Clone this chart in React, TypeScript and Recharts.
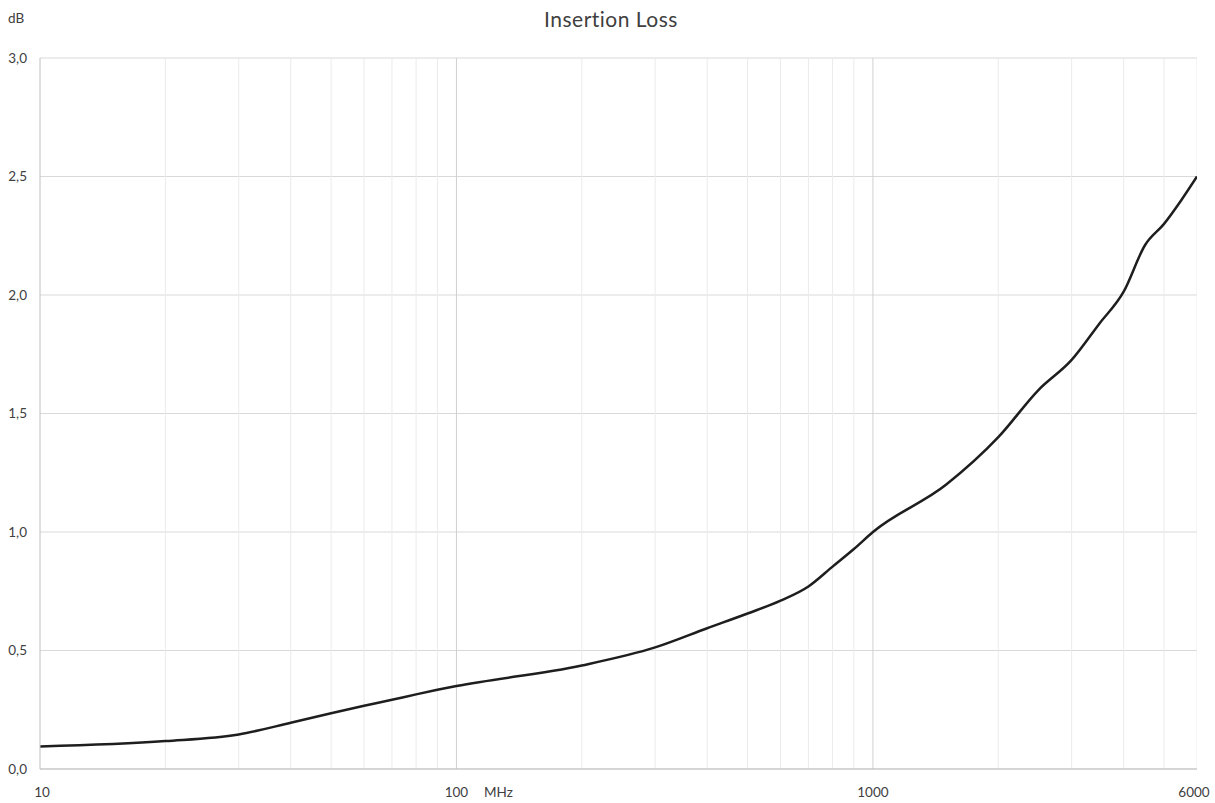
import React from "react"
import { LineChart, Line, XAxis, YAxis, CartesianGrid, ReferenceLine } from "recharts"

// insertion loss vs frequency (MHz)
const freqs = [10, 20, 30, 40, 50, 60, 70, 80, 90, 100, 200, 300, 400, 500, 600, 700, 800, 900, 1000, 1500, 2000, 2500, 3000, 3500, 4000, 4500, 5000, 5500, 6000]
const lossDb = [0.095, 0.118, 0.146, 0.195, 0.235, 0.267, 0.292, 0.315, 0.334, 0.35, 0.437, 0.513, 0.594, 0.656, 0.71, 0.77, 0.854, 0.928, 1.0, 1.2, 1.4, 1.6, 1.726, 1.88, 2.014, 2.21, 2.3, 2.4, 2.5]

const yTicks = [0, 0.5, 1, 1.5, 2, 2.5, 3]
const xLabels = [10, 100, 1000, 6000]
const minorFreqs = [20, 30, 40, 50, 60, 70, 80, 90, 200, 300, 400, 500, 600, 700, 800, 900, 2000, 3000, 4000, 5000, 6000]
const majorFreqs = [100, 1000]

const data = freqs.map((f, i) => ({ f, loss: lossDb[i] }))

const font = "Lato, 'Open Sans', sans-serif"

const XTick = (props: any) => {
  const { x, y, payload } = props
  const v = payload.value
  const dx = v === 6000 ? -3 : v === 10 ? 2 : 0
  return (
    <g>
      <text x={x + dx} y={y + 20} textAnchor="middle" fontSize={13.5} fill="#404040" fontFamily={font}>
        {v}
      </text>
      {v === 100 && (
        <text x={x + 42} y={y + 20} textAnchor="middle" fontSize={13.5} fill="#404040" fontFamily={font}>
          MHz
        </text>
      )}
    </g>
  )
}

export default function App() {
  return (
    <div style={{ position: "absolute", left: 0, top: 0, width: 1215, height: 803, background: "#fff" }}>
      <div style={{ position: "absolute", left: 0, top: 0, width: 1222, textAlign: "center", fontFamily: font, fontSize: 21, letterSpacing: 0.5, color: "#404040", lineHeight: "38px" }}>
        Insertion Loss
      </div>
      <div style={{ position: "absolute", left: 8, top: 10, fontFamily: font, fontSize: 13.5, color: "#404040" }}>dB</div>
      <LineChart width={1215} height={803} data={data} margin={{ top: 58, right: 18, bottom: 0, left: 0 }}>
        <CartesianGrid vertical={false} stroke="#d9d9d9" strokeWidth={1} />
        {minorFreqs.map((f) => (
          <ReferenceLine key={f} x={f} stroke="#ebebeb" strokeWidth={1} ifOverflow="hidden" />
        ))}
        {majorFreqs.map((f) => (
          <ReferenceLine key={f} x={f} stroke="#d0d0d0" strokeWidth={1} />
        ))}
        <XAxis
          dataKey="f"
          type="number"
          scale="log"
          domain={[10, 6000]}
          ticks={xLabels}
          allowDataOverflow
          height={34}
          tickLine={false}
          axisLine={{ stroke: "#bfbfbf" }}
          tick={<XTick />}
        />
        <YAxis
          type="number"
          domain={[0, 3]}
          ticks={yTicks}
          width={40}
          tickLine={false}
          tickSize={0}
          tickMargin={13}
          axisLine={{ stroke: "#bfbfbf" }}
          tick={{ fontSize: 13.5, fill: "#404040", fontFamily: font }}
          tickFormatter={(v: number) => v.toFixed(1).replace(".", ",")}
        />
        <Line type="monotone" dataKey="loss" stroke="#1e1e1e" strokeWidth={2.5} dot={false} isAnimationActive={false} />
      </LineChart>
    </div>
  )
}
